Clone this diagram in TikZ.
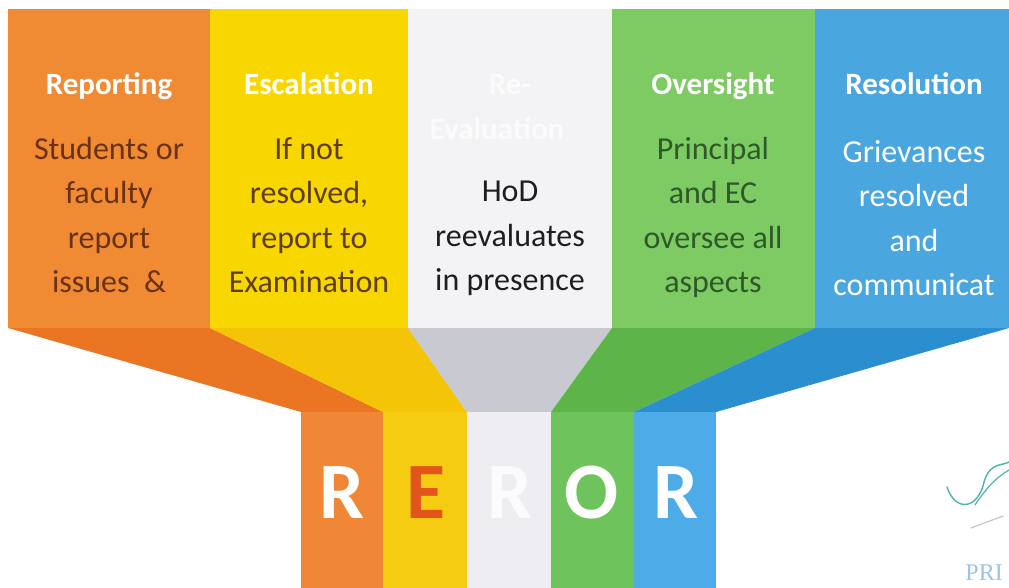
\documentclass[tikz,border=0pt]{standalone}
\usepackage{fontspec}
\setmainfont{Carlito}
\newfontfamily\stampfont{Liberation Serif}
\definecolor{cOr}{HTML}{F08A33}
\definecolor{cYe}{HTML}{F8D600}
\definecolor{cWh}{HTML}{F3F3F6}
\definecolor{cGr}{HTML}{7ECB63}
\definecolor{cBl}{HTML}{4AA6DF}
\definecolor{fOr}{HTML}{EA7623}
\definecolor{fYe}{HTML}{F4C406}
\definecolor{fWh}{HTML}{C9C9D2}
\definecolor{fGr}{HTML}{5DB54A}
\definecolor{fBl}{HTML}{2A8ECF}
\definecolor{nOr}{HTML}{F08736}
\definecolor{nYe}{HTML}{F6CC12}
\definecolor{nWh}{HTML}{EEEEF2}
\definecolor{nGr}{HTML}{6FC35D}
\definecolor{nBl}{HTML}{4DABE7}
\definecolor{tOr}{HTML}{6A3212}
\definecolor{tYe}{HTML}{5E3E10}
\definecolor{tWh}{HTML}{1E1E1E}
\definecolor{tGr}{HTML}{2E5A2A}
\definecolor{ghost}{HTML}{FBFBFC}
\definecolor{letE}{HTML}{E2561C}
\definecolor{sig}{HTML}{4FB3AE}
\definecolor{stamp}{HTML}{9CC4E4}
\tikzset{
  title/.style={font=\fontsize{31}{36}\selectfont\bfseries, text=white, anchor=base, inner sep=0pt},
  body/.style={font=\fontsize{32}{44.5}\selectfont, align=center, anchor=north, inner sep=0pt},
  letter/.style={font=\fontsize{80}{80}\selectfont\bfseries, text=white, anchor=base, inner sep=0pt}
}
\begin{document}
\begin{tikzpicture}[x=1pt,y=-1pt]
\useasboundingbox (0,0) rectangle (1009,588);
\clip (0,0) rectangle (1009,588);
\fill[white] (0,0) rectangle (1009,588);
% top columns
\fill[cOr] (8,9) rectangle (210,328);
\fill[cYe] (210,9) rectangle (408,328);
\fill[cWh] (408,9) rectangle (612,328);
\fill[cGr] (612,9) rectangle (815,328);
\fill[cBl] (815,9) rectangle (1009,328);
% funnel
\fill[fOr] (8,328) -- (210,328) -- (383,412) -- (301,412) -- cycle;
\fill[fYe] (210,328) -- (408,328) -- (467,412) -- (383,412) -- cycle;
\fill[fWh] (408,328) -- (612,328) -- (551,412) -- (467,412) -- cycle;
\fill[fGr] (612,328) -- (815,328) -- (634,412) -- (551,412) -- cycle;
\fill[fBl] (815,328) -- (1009,328) -- (716,412) -- (634,412) -- cycle;
% narrow columns
\fill[nOr] (301,412) rectangle (383,588);
\fill[nYe] (383,412) rectangle (467,588);
\fill[nWh] (467,412) rectangle (551,588);
\fill[nGr] (551,412) rectangle (634,588);
\fill[nBl] (634,412) rectangle (716,588);
% titles
\node[title] (t1) at (109,95) {Reporting};
\node[title] (t2) at (309,95) {Escalation};
\node[title, text=ghost] (t3a) at (510,95) {Re-};
\node[title, text=ghost] (t3b) at (497,140) {Evaluation};
\node[title] (t4) at (713,95) {Oversight};
\node[title] (t5) at (914,95) {Resolution};
% bodies
\node[body, text=tOr] (b1) at (109,137) {Students or\\faculty\\report\\issues\ \ \&};
\node[body, text=tYe] (b2) at (309,137) {If not\\resolved,\\report to\\Examination};
\node[body, text=tWh] (b3) at (510,181) {HoD\\reevaluates\\in presence};
\node[body, text=tGr] (b4) at (713,137) {Principal\\and EC\\oversee all\\aspects};
\node[body, text=white] (b5) at (914,140) {Grievances\\resolved\\and\\communicat};
% letters
\node[letter] (l1) at (342,518) {R};
\node[letter, text=letE] (l2) at (426,518) {E};
\node[letter, text=ghost] (l3) at (510,518) {R};
\node[letter] (l4) at (592,518) {O};
\node[letter] (l5) at (676,518) {R};
% signature and stamp
\draw[sig, line width=1.4pt, line cap=round] (947,487) .. controls (955,512) and (978,510) .. (984,482) .. controls (990,462) and (1002,466) .. (1009,462);
\draw[sig, line width=1.2pt, line cap=round] (975,505) .. controls (985,490) and (995,478) .. (1009,470);
\draw[gray!45, line width=1.2pt, line cap=round] (971,528) -- (1003,516);
\node[font=\stampfont\fontsize{24}{24}\selectfont, text=stamp, anchor=base east, inner sep=0pt] (pri) at (1003,580) {PRI};
\end{tikzpicture}
\end{document}
